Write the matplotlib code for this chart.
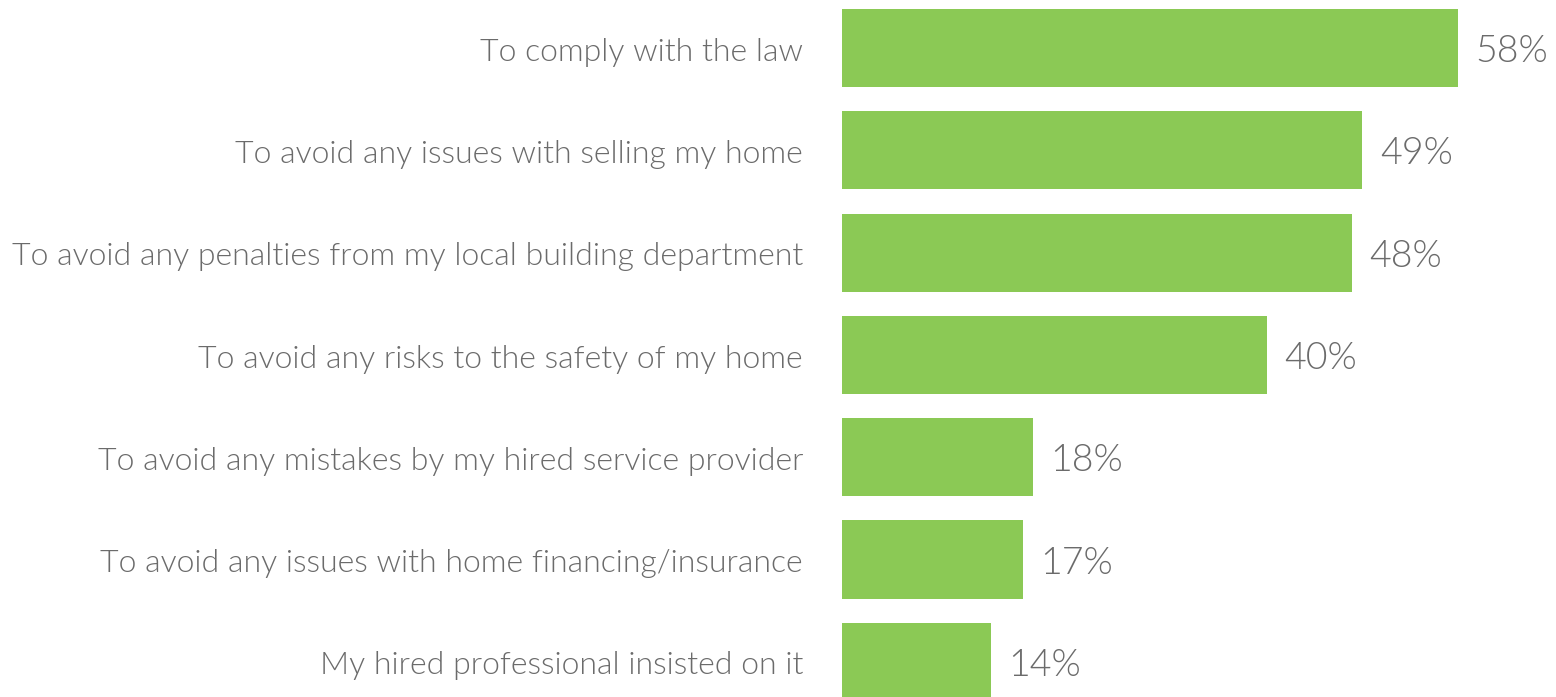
import matplotlib
matplotlib.use("Agg")
import matplotlib.pyplot as plt
from matplotlib.transforms import blended_transform_factory, offset_copy

categories = [
    "To comply with the law",
    "To avoid any issues with selling my home",
    "To avoid any penalties from my local building department",
    "To avoid any risks to the safety of my home",
    "To avoid any mistakes by my hired service provider",
    "To avoid any issues with home financing/insurance",
    "My hired professional insisted on it",
]
values = [58, 49, 48, 40, 18, 17, 14]
value_labels = ["58%", "49%", "48%", "40%", "18%", "17%", "14%"]

BAR = "#8BC955"
TXT = "#6b6b6b"
FONT = ["Lato", "DejaVu Sans"]

W, H = 1556, 697
fig = plt.figure(figsize=(W / 100, H / 100), dpi=100)
ax = fig.add_axes([842 / W, 0, 1 - 842 / W, 1])

ypos = list(range(len(categories)))
ax.barh(ypos, values, height=0.763, color=BAR, align="center")
ax.set_xlim(0, 58 * 714 / 616)
ax.set_ylim(6.344, -0.469)
ax.axis("off")

for y, v, lab, cat in zip(ypos, values, value_labels, categories):
    ax.annotate(lab, xy=(v, y), xytext=(12.5, -3), textcoords="offset points",
                ha="left", va="center", fontsize=27, color=TXT,
                family=FONT, fontweight=300)
    tr = offset_copy(blended_transform_factory(ax.transAxes, ax.transData),
                     fig=fig, x=-28, y=-3, units="points")
    ax.text(0, y, cat, transform=tr, ha="right", va="center", fontsize=23,
            color=TXT, family=FONT, fontweight=300, clip_on=False)

fig.savefig("out.png", dpi=100)
